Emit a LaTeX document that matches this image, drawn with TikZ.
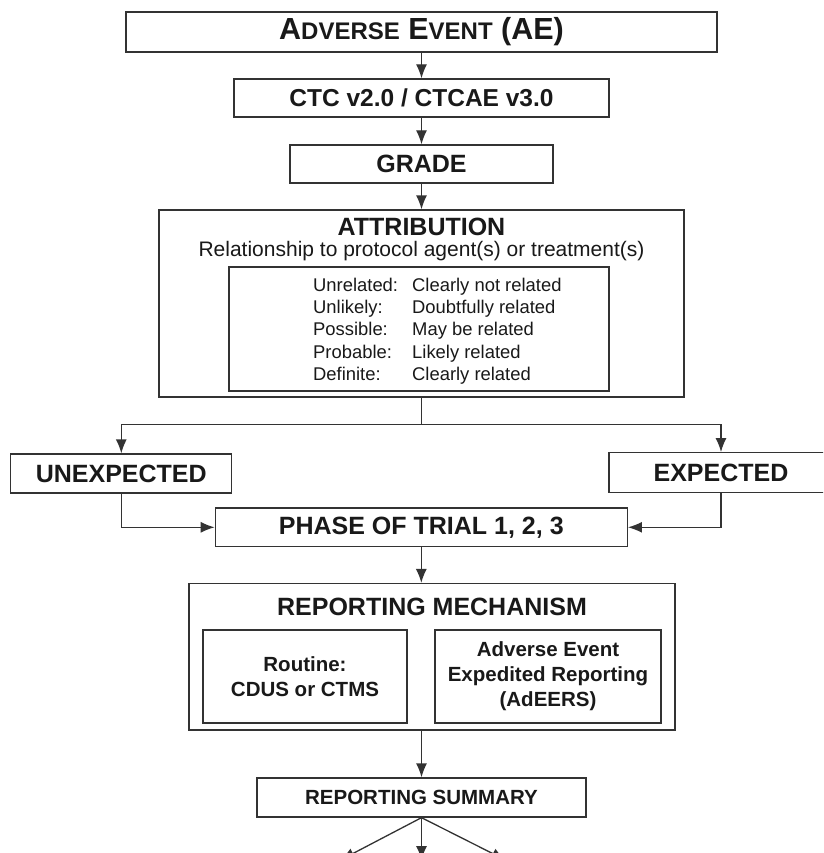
\documentclass[tikz,border=0pt]{standalone}
\usepackage{fontspec}
\setmainfont{Liberation Sans}
\usetikzlibrary{arrows.meta}
\definecolor{linegray}{rgb}{0.2,0.2,0.2}
\definecolor{inkgray}{rgb}{0.1,0.1,0.1}
\newcommand{\smallcap}[1]{{\fontsize{24}{28}\selectfont #1}}

\tikzset{
	box/.style={draw=linegray, line width=1.3pt, rectangle, inner sep=0pt, align=center, text=inkgray, font=\bfseries\fontsize{25}{28}\selectfont},
	link/.style={draw=linegray, line width=1.3pt},
	arrowlink/.style={link, -{Latex[length=14pt,width=11pt]}},
	rowtext/.style={anchor=base west, inner sep=0pt, text=inkgray, font=\fontsize{18.4}{22}\selectfont}
}

\begin{document}
\begin{tikzpicture}[x=1pt, y=-1pt]
	% Fix the page size (the EXPECTED box runs off the right edge)
	\useasboundingbox (0,0) rectangle (823,853);
	\clip (0,0) rectangle (823,853);
	\fill[white] (0,0) rectangle (823,853);

	% Draw the top chain of boxes
	\node[box, minimum width=591pt, minimum height=40pt] (ae) at (421.5,32) {\fontsize{30.5}{32}\selectfont A\smallcap{DVERSE} E\smallcap{VENT} (AE)};
	\node[box, minimum width=375pt, minimum height=38pt, font=\bfseries\fontsize{24.5}{28}\selectfont] (ctc) at (421.5,98) {CTC v2.0 / CTCAE v3.0};
	\node[box, minimum width=263pt, minimum height=38pt] (grade) at (421.5,164) {GRADE};
	\draw[arrowlink] (ae) -- (ctc);
	\draw[arrowlink] (ctc) -- (grade);

	% Attribution box with its scale of relatedness
	\node[box, minimum width=525pt, minimum height=187pt] (attr) at (421.5,303.5) {};
	\node[anchor=base, text=inkgray, font=\bfseries\fontsize{25}{28}\selectfont, inner sep=0pt] (attrtitle) at (421.5,235.5) {ATTRIBUTION};
	\node[anchor=base, text=inkgray, font=\fontsize{21}{24}\selectfont, inner sep=0pt] (attrsub) at (421.5,256.5) {Relationship to protocol agent(s) or treatment(s)};
	\node[box, minimum width=380pt, minimum height=124pt] (scalebox) at (419,329) {};
	\foreach \lab/\txt [count=\i] in {Unrelated:/Clearly not related, Unlikely:/Doubtfully related, Possible:/May be related, Probable:/Likely related, Definite:/Clearly related}
	{
		\node[rowtext] (lab\i) at (313,{291.5+22.2*(\i-1)}) {\lab};
		\node[rowtext] (txt\i) at (412,{291.5+22.2*(\i-1)}) {\txt};
	}
	\draw[arrowlink] (grade) -- (attr);

	% Split into unexpected / expected
	\node[box, minimum width=221pt, minimum height=39pt] (unexp) at (121.3,473.5) {UNEXPECTED};
	\node[box, minimum width=224pt, minimum height=40pt] (exp) at (721,472.7) {EXPECTED};
	\coordinate (split) at (421.5,424.5);
	\draw[link] (attr) -- (split);
	\draw[arrowlink] (split) -| (unexp);
	\draw[arrowlink] (split) -| (exp);

	% Both branches meet at the phase of trial
	\node[box, minimum width=412pt, minimum height=38.5pt] (phase) at (421.3,527.3) {PHASE OF TRIAL 1, 2, 3};
	\draw[arrowlink] (unexp) |- (phase);
	\draw[arrowlink] (exp) |- (phase);

	% Reporting mechanism
	\node[box, minimum width=486pt, minimum height=146.5pt] (mech) at (432,656.8) {};
	\node[text=inkgray, font=\bfseries\fontsize{25}{28}\selectfont, inner sep=0pt] (mechtitle) at (432,607) {REPORTING MECHANISM};
	\node[box, minimum width=204pt, minimum height=93pt, font=\bfseries\fontsize{20.5}{25}\selectfont] (routine) at (305,676.5) {Routine:\\CDUS or CTMS};
	\node[box, minimum width=226pt, minimum height=93pt, font=\bfseries\fontsize{20.5}{25}\selectfont] (adeers) at (548,676.5) {Adverse Event\\Expedited Reporting\\(AdEERS)};
	\draw[arrowlink] (phase) -- (phase |- mech.north);

	% Reporting summary and its three outputs
	\node[box, minimum width=329pt, minimum height=39pt, font=\bfseries\fontsize{20.5}{25}\selectfont] (summary) at (421.5,797.5) {REPORTING SUMMARY};
	\draw[arrowlink] (mech.south -| summary) -- (summary);
	\coordinate (outleft) at (340.5,860);
	\coordinate (outmid) at (421.5,860);
	\coordinate (outright) at (505.5,860);
	\draw[arrowlink] (summary.south) -- (outleft);
	\draw[arrowlink] (summary.south) -- (outmid);
	\draw[arrowlink] (summary.south) -- (outright);
\end{tikzpicture}
\end{document}
